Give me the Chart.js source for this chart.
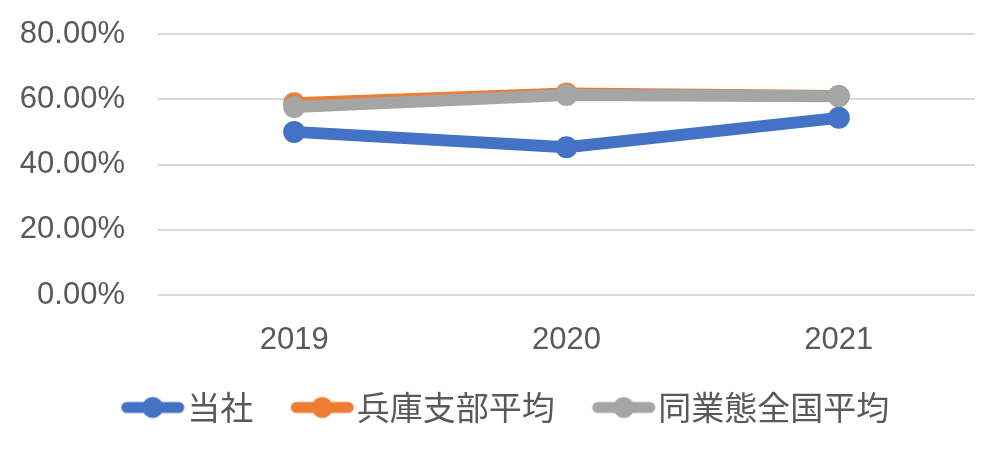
<!DOCTYPE html>
<html>
<head>
<meta charset="utf-8">
<script src="https://cdn.jsdelivr.net/npm/chart.js@4.4.0/dist/chart.umd.min.js"></script>
<style>
  html, body { margin: 0; padding: 0; background: #fff; }
  #wrap { width: 1007px; height: 454px; }
</style>
</head>
<body>
<div id="wrap"><canvas id="myLineChart" width="1007" height="454"></canvas></div>
<script>
// data (percent)
var years = ['2019', '2020', '2021'];
var tousha = [50.0, 45.3, 54.3];        // 当社
var hyogo = [58.8, 61.8, 61.0];         // 兵庫支部平均
var zenkoku = [57.6, 61.3, 60.9];       // 同業態全国平均
var seriesNames = ['当社', '兵庫支部平均', '同業態全国平均'];
var seriesColors = ['#4472C4', '#ED7D31', '#A5A5A5'];

var textColor = '#595959';
var tickFont = { family: "'Liberation Sans', Arial, sans-serif", size: 31 };

// legend symbol: a thick line with a round marker, with empty room on the left
// (the empty part makes the gap between legend items)
var symLeft = 41;
function legendSymbol(color) {
    var c = document.createElement('canvas');
    c.width = symLeft + 64;
    c.height = 24;
    var g = c.getContext('2d');
    g.strokeStyle = color;
    g.lineWidth = 11;
    g.lineCap = 'round';
    g.beginPath();
    g.moveTo(symLeft + 6, 12);
    g.lineTo(symLeft + 58, 12);
    g.stroke();
    g.fillStyle = color;
    g.beginPath();
    g.arc(symLeft + 32, 12, 10.5, 0, Math.PI * 2);
    g.fill();
    return c;
}

function makeSet(i, values, order) {
    return {
        label: seriesNames[i],
        data: values,
        borderColor: seriesColors[i],
        backgroundColor: seriesColors[i],
        borderWidth: 12,
        pointRadius: 11,
        pointHoverRadius: 11,
        pointBorderWidth: 0,
        borderCapStyle: 'round',
        borderJoinStyle: 'round',
        tension: 0,
        order: order
    };
}

var ctx = document.getElementById('myLineChart');
var myChart = new Chart(ctx, {
    type: 'line',
    data: {
        labels: years,
        datasets: [
            makeSet(0, tousha, 2),
            makeSet(1, hyogo, 1),
            makeSet(2, zenkoku, 0)
        ]
    },
    options: {
        responsive: false,
        animation: false,
        layout: {
            padding: { top: 34, right: 24, left: 0, bottom: 20 }
        },
        plugins: {
            tooltip: { enabled: false },
            legend: {
                position: 'bottom',
                labels: {
                    usePointStyle: true,
                    pointStyleWidth: 77,
                    padding: 10,
                    color: textColor,
                    font: { family: "'Noto Sans CJK JP'", size: 33 },
                    generateLabels: function (chart) {
                        return chart.data.datasets.map(function (ds, i) {
                            return {
                                text: ds.label,
                                fillStyle: ds.borderColor,
                                strokeStyle: ds.borderColor,
                                lineWidth: 0,
                                pointStyle: legendSymbol(ds.borderColor),
                                fontColor: textColor,
                                datasetIndex: i,
                                hidden: false
                            };
                        });
                    }
                }
            }
        },
        scales: {
            x: {
                offset: true,
                grid: { display: false, drawTicks: false },
                border: { display: false },
                ticks: {
                    color: textColor,
                    padding: 27,
                    font: tickFont
                },
                afterFit: function (scale) { scale.height = 86; }
            },
            y: {
                min: 0,
                max: 80,
                grid: { color: '#D9D9D9', lineWidth: 2, drawTicks: false },
                border: { display: false },
                ticks: {
                    stepSize: 20,
                    padding: 33,
                    color: textColor,
                    font: tickFont,
                    callback: function (v) { return v.toFixed(2) + '%'; }
                },
                afterFit: function (scale) {
                    scale.width = 158;
                    scale.paddingTop = 0;
                    scale.paddingBottom = 0;
                }
            },
            // empty axis that only keeps the right margin of the plot
            yRight: {
                position: 'right',
                grid: { display: false, drawTicks: false },
                border: { display: false },
                ticks: { display: false },
                afterFit: function (scale) { scale.width = 8; }
            }
        }
    }
});
</script>
</body>
</html>
